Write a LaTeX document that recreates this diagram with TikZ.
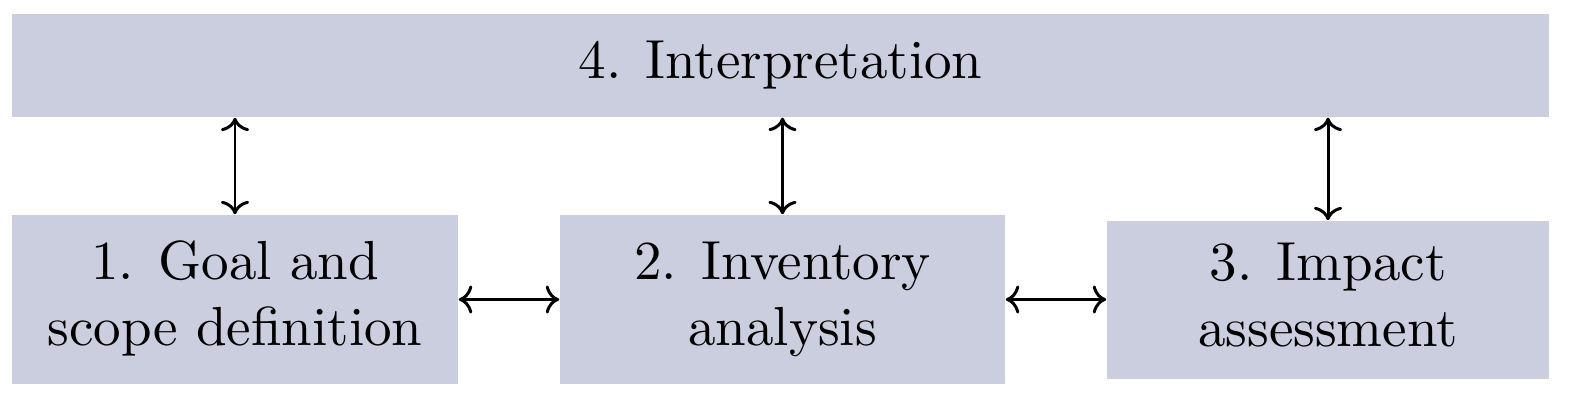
\documentclass[tikz,border=0pt]{standalone}
\usetikzlibrary{arrows.meta}
\definecolor{boxfill}{RGB}{203,206,223}
\newcommand\stagetext[1]{\scalebox{1.565}{\normalsize\begin{tabular}{@{}c@{}}#1\end{tabular}}}
\newcommand\nsp{\hspace{0.444em}}
\begin{document}
\begin{tikzpicture}[x=0.01cm,y=-0.01cm,
  stagebox/.style={fill=boxfill,draw=none,inner sep=0pt,align=center},
  link/.style={{To[scale=1.1]}-{To[scale=1.1]},line width=0.85pt}]
\useasboundingbox (0,0) rectangle (1572,400);
\node[stagebox,minimum width=15.37cm,minimum height=1.03cm] (top) at (780.5,65.5) {\raisebox{-0.9pt}{\stagetext{4.\nsp Interpretation}}};
\node[stagebox,minimum width=4.46cm,minimum height=1.69cm] (b1) at (235,299.5) {\stagetext{1.\nsp Goal and\\scope definition}};
\node[stagebox,minimum width=4.45cm,minimum height=1.69cm] (b2) at (782.5,299.5) {\stagetext{2.\nsp Inventory\\analysis}};
\node[stagebox,minimum width=4.42cm,minimum height=1.58cm] (b3) at (1328,300) {\stagetext{3.\nsp Impact\\assessment}};
\draw[link] (b1.north |- top.south) -- (b1.north);
\draw[link] (b2.north |- top.south) -- (b2.north);
\draw[link] (b3.north |- top.south) -- (b3.north);
\draw[link] (b1.east) -- (b2.west);
\draw[link] (b2.east) -- (b3.west |- b2.east);
\end{tikzpicture}
\end{document}
